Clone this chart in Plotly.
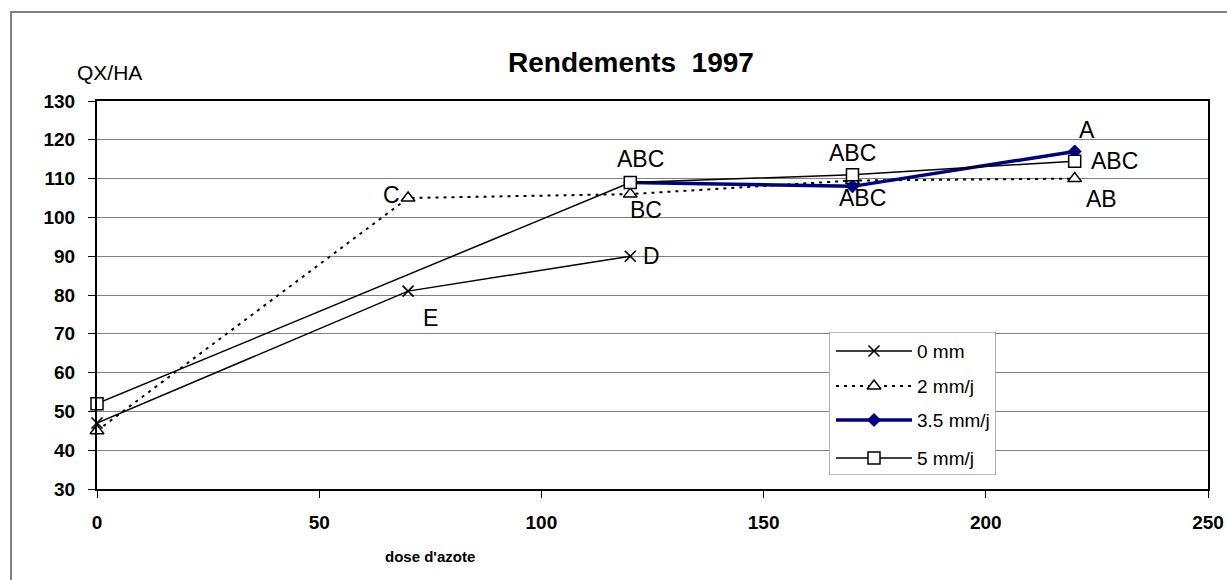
import plotly.graph_objects as go

# Nitrogen dose (x) and yield in quintals per hectare for each irrigation level
dose_0mm = [0, 70, 120]
yield_0mm = [47, 81, 90]
labels_0mm = ["", "E", "D"]

dose_2mm = [0, 70, 120, 170, 220]
yield_2mm = [45, 105, 106, 109.5, 110]
labels_2mm = ["", "C", "BC", "", "AB"]

dose_35mm = [120, 170, 220]
yield_35mm = [109, 108, 117]
labels_35mm = ["", "ABC", "A"]

dose_5mm = [0, 120, 170, 220]
yield_5mm = [52, 109, 111, 114.5]
labels_5mm = ["", "ABC", "ABC", "ABC"]

series_names = ["0 mm", "2 mm/j", "3.5 mm/j", "5 mm/j"]
x_ticks = [0, 50, 100, 150, 200, 250]
y_ticks = [30, 40, 50, 60, 70, 80, 90, 100, 110, 120, 130]

FONT = "Liberation Sans, Arial, sans-serif"
NAVY = "#000080"

styles = [
    dict(line=dict(color="black", width=1.5),
         marker=dict(symbol="x-thin", size=11, line=dict(color="black", width=1.6), color="black")),
    dict(line=dict(color="black", width=2, dash="3px,5px"),
         marker=dict(symbol="triangle-up", size=12, color="white", line=dict(color="black", width=1.5))),
    dict(line=dict(color=NAVY, width=3.5),
         marker=dict(symbol="diamond", size=10, color=NAVY, line=dict(color=NAVY, width=1))),
    dict(line=dict(color="black", width=1.5),
         marker=dict(symbol="square", size=12, color="white", line=dict(color="black", width=1.5))),
]

data = [
    (dose_0mm, yield_0mm, labels_0mm),
    (dose_2mm, yield_2mm, labels_2mm),
    (dose_35mm, yield_35mm, labels_35mm),
    (dose_5mm, yield_5mm, labels_5mm),
]

W, H = 1227, 580
ml, mr, mt, mb = 97, 19, 101, 91
pw, ph = W - ml - mr, H - mt - mb


def px_to_paper_x(px):
    return (px - ml) / pw


def px_to_paper_y(py):
    return 1 - (py - mt) / ph


fig = go.Figure()
for (xs, ys, _), name, st in zip(data, series_names, styles):
    fig.add_trace(go.Scatter(x=xs, y=ys, mode="lines+markers", name=name,
                             line=st["line"], marker=st["marker"],
                             showlegend=False, cliponaxis=False))

# Offsets of the significance letters around each point (pixels)
label_offsets = {
    (0, 1): (22, -27), (0, 2): (21, 0),
    (1, 1): (-17, 3), (1, 2): (16, -16), (1, 4): (27, -20),
    (2, 1): (10, -12), (2, 2): (12, 21),
    (3, 1): (10, 23), (3, 2): (0, 22), (3, 3): (40, 0),
}
for si, (xs, ys, labs) in enumerate(data):
    for pi, (xv, yv, lab) in enumerate(zip(xs, ys, labs)):
        if not lab:
            continue
        dx, dy = label_offsets[(si, pi)]
        fig.add_annotation(x=xv, y=yv, text=lab, showarrow=False,
                           xshift=dx, yshift=dy, xanchor="center", yanchor="middle",
                           font=dict(family=FONT, size=23, color="black"))

# Legend box drawn on its own small pixel-scaled axes
lx0, lx1 = 829, 996
ly0, ly1 = 332, 475
fig.update_layout(
    xaxis2=dict(domain=[px_to_paper_x(lx0), px_to_paper_x(lx1)], range=[lx0, lx1],
                visible=False, anchor="y2", fixedrange=True),
    yaxis2=dict(domain=[px_to_paper_y(ly1), px_to_paper_y(ly0)], range=[ly1, ly0],
                visible=False, anchor="x2", fixedrange=True),
)
fig.add_shape(type="rect", xref="x2", yref="y2", x0=lx0, x1=lx1, y0=ly0, y1=ly1,
              line=dict(color="#808080", width=1.2), fillcolor="white", layer="between")
legend_rows = [351, 386, 420, 458]
for name, st, ry in zip(series_names, styles, legend_rows):
    fig.add_trace(go.Scatter(x=[836, 912], y=[ry, ry], xaxis="x2", yaxis="y2", mode="lines",
                             line=st["line"], showlegend=False, hoverinfo="skip"))
    fig.add_trace(go.Scatter(x=[874], y=[ry], xaxis="x2", yaxis="y2", mode="markers",
                             marker=st["marker"], showlegend=False, hoverinfo="skip"))
    fig.add_annotation(x=915, y=ry, xref="x2", yref="y2", text=name, showarrow=False,
                       xanchor="left", yanchor="middle",
                       font=dict(family=FONT, size=19, color="black"))

# Outer chart frame
fig.add_shape(type="rect", xref="paper", yref="paper",
              x0=px_to_paper_x(11), x1=px_to_paper_x(1240),
              y0=px_to_paper_y(600), y1=px_to_paper_y(12),
              line=dict(color="#808080", width=2), fillcolor="rgba(0,0,0,0)", layer="below")

fig.update_layout(
    width=W, height=H,
    margin=dict(l=ml, r=mr, t=mt, b=mb, autoexpand=False),
    paper_bgcolor="white", plot_bgcolor="white",
    font=dict(family=FONT, color="black"),
    showlegend=False,
    xaxis=dict(range=[0, 250], tickvals=x_ticks, showgrid=False, zeroline=False,
               showline=True, linecolor="black", linewidth=2, mirror=True,
               ticks="outside", ticklen=7, tickcolor="black", tickwidth=1,
               tickfont=dict(family=FONT, size=19, color="black", weight="bold"),
               ticklabelstandoff=8, automargin=False, fixedrange=True),
    yaxis=dict(range=[30, 130], tickvals=y_ticks, showgrid=True, gridcolor="#808080",
               gridwidth=1, zeroline=False,
               showline=True, linecolor="black", linewidth=2, mirror=True,
               ticks="outside", ticklen=7, tickcolor="black", tickwidth=1,
               tickfont=dict(family=FONT, size=19, color="black", weight="bold"),
               ticklabelstandoff=9, automargin=False, fixedrange=True),
)

fig.add_annotation(xref="paper", yref="paper", x=px_to_paper_x(631), y=px_to_paper_y(63),
                   text="<b>Rendements  1997</b>", showarrow=False,
                   xanchor="center", yanchor="middle",
                   font=dict(family=FONT, size=28, color="black"))
fig.add_annotation(xref="paper", yref="paper", x=px_to_paper_x(109), y=px_to_paper_y(72),
                   text="QX/HA", showarrow=False, xanchor="center", yanchor="middle",
                   font=dict(family=FONT, size=21, color="black"))
fig.add_annotation(xref="paper", yref="paper", x=px_to_paper_x(430), y=px_to_paper_y(556),
                   text="<b>dose d'azote</b>", showarrow=False, xanchor="center", yanchor="middle",
                   font=dict(family=FONT, size=15, color="black"))

fig.write_html("out.html")
